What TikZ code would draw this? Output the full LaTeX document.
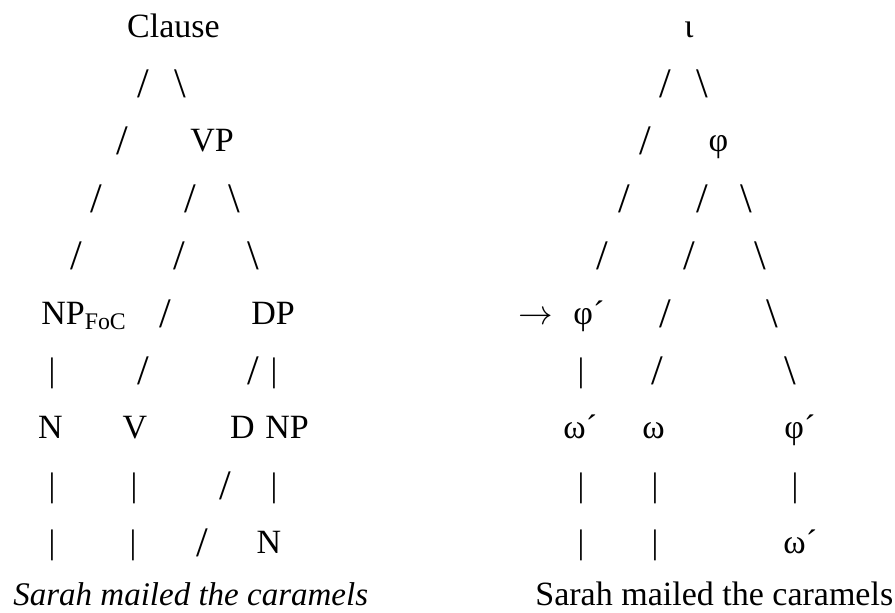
\documentclass[tikz,border=0pt]{standalone}
\usepackage{fontspec}
\setmainfont{Liberation Serif}

\begin{document}
\begin{tikzpicture}[x=0.5pt,y=-0.5pt,
                    tok/.style={anchor=base,inner sep=0pt,font=\fontsize{17}{20}\selectfont},
                    stroke/.style={tok,font=\fontsize{21}{24}\selectfont,yshift=-1.5pt},
                    word/.style={tok,anchor=base west}]
  \useasboundingbox (0,0) rectangle (895,612);

  % syntactic tree
  \node[tok] (clause) at (173.5,37) {Clause};
  \node[tok] (vp) at (212,151.8) {VP};
  \node[word] (npfoc) at (41,324) {NP\textsubscript{FoC}};
  \node[tok] (dp) at (273,324) {DP};
  \node[tok] (n1) at (50.5,438.8) {N};
  \node[tok] (v) at (135,438.8) {V};
  \node[tok] (d) at (242.5,438.8) {D};
  \node[tok] (np) at (287,438.8) {NP};
  \node[tok] (n2) at (269,553.6) {N};
  \node[word,font=\fontsize{16.5}{20}\selectfont\itshape] (syn) at (13,605) {Sarah mailed the caramels};

  \foreach \x/\y [count=\i] in {143/94.4,122.7/151.8,96.7/209.2,190/209.2,76/266.6,
      179/266.6,165/324,143/381.4,253/381.4,225/496.2,202/553.6}
    \node[stroke] (ls\i) at (\x,\y) {/};
  \foreach \x/\y [count=\i] in {180.5/94.4,234/209.2,253/266.6}
    \node[stroke] (lb\i) at (\x,\y) {\textbackslash};
  \foreach \x/\y [count=\i] in {52/381.4,274/381.4,52/496.2,134/496.2,274/496.2,
      52/553.6,133/553.6}
    \node[tok] (lv\i) at (\x,\y) {|};

  % prosodic tree
  \node[tok] (iota) at (689,37) {ι};
  \node[tok] (phi) at (718.5,151.8) {φ};
  \node[tok] (arrow) at (535.5,324) {$\rightarrow$};
  \node[word] (phifoc) at (573,324) {φ´};
  \node[word] (om1) at (563,438.8) {ω´};
  \node[tok] (om2) at (653.5,438.8) {ω};
  \node[word] (phi2) at (784,438.8) {φ´};
  \node[word] (om3) at (783,553.6) {ω´};
  \node[word] (pro) at (535,605) {Sarah mailed the caramels};

  \foreach \x/\y [count=\i] in {665.5/94.4,645/151.8,624/209.2,702.5/209.2,602.5/266.6,
      689/266.6,665/324,657.5/381.4}
    \node[stroke] (rs\i) at (\x,\y) {/};
  \foreach \x/\y [count=\i] in {702.5/94.4,746.5/209.2,760/266.6,772/324,790/381.4}
    \node[stroke] (rb\i) at (\x,\y) {\textbackslash};
  \foreach \x/\y [count=\i] in {581/381.4,581/496.2,655/496.2,795/496.2,
      581/553.6,655/553.6}
    \node[tok] (rv\i) at (\x,\y) {|};
\end{tikzpicture}
\end{document}
